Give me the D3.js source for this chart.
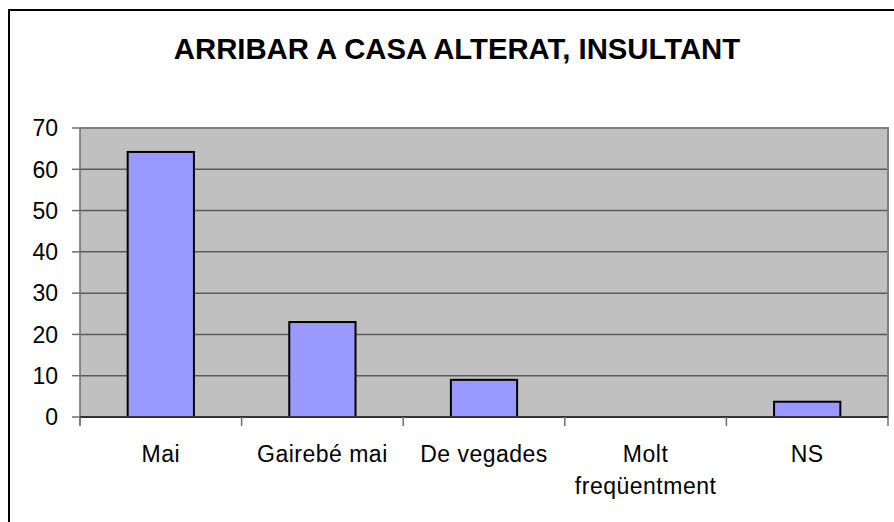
<!DOCTYPE html>
<html>
<head>
<meta charset="utf-8">
<script src="https://cdn.jsdelivr.net/npm/d3@7"></script>
<style>
  body { margin: 0; background: #fff; }
  text { font-family: "Liberation Sans", Arial, sans-serif; fill: #000; }
</style>
</head>
<body>
<svg id="chart" width="894" height="522"></svg>
<script>
var title = "ARRIBAR A CASA ALTERAT, INSULTANT";
var categories = ["Mai", "Gairebé mai", "De vegades", "Molt freqüentment", "NS"];
var values = [64.2, 23, 9, 0, 3.7];
var yTicks = [0, 10, 20, 30, 40, 50, 60, 70];

var margin = { top: 128, left: 80 },
	width = 808,
	height = 289;

var svg = d3.select("#chart");

// outer frame, right and bottom edges run off the picture
svg.append("rect")
	.attr("x", 9).attr("y", 10)
	.attr("width", 1000).attr("height", 1000)
	.attr("fill", "#fff")
	.attr("stroke", "#000")
	.attr("stroke-width", 2);

svg.append("text")
	.attr("x", 457)
	.attr("y", 59)
	.attr("text-anchor", "middle")
	.style("font-size", "29.3px")
	.style("font-weight", "bold")
	.text(title);

var g = svg.append("g")
	.attr("transform", "translate(" + margin.left + "," + margin.top + ")");

var x = d3.scaleBand().domain(categories).range([0, width]);
var y = d3.scaleLinear().domain([0, 70]).range([height, 0]);
var barW = x.bandwidth() * 0.41;

// plot background
g.append("rect")
	.attr("width", width).attr("height", height)
	.attr("fill", "#c0c0c0");

// gridlines
g.selectAll(".grid")
	.data(yTicks.filter(function (d) { return d > 0 && d < 70; }))
	.enter().append("line")
	.attr("x1", 0).attr("x2", width)
	.attr("y1", function (d) { return y(d); })
	.attr("y2", function (d) { return y(d); })
	.attr("stroke", "#5a5a5a")
	.attr("stroke-width", 1.5);

// top and right border of plot
g.append("path")
	.attr("d", "M0," + y(70) + "H" + width + "V" + height)
	.attr("fill", "none")
	.attr("stroke", "#808080")
	.attr("stroke-width", 2);

// bars
g.selectAll(".bar")
	.data(values)
	.enter().append("rect")
	.attr("class", "bar")
	.attr("x", function (d, i) { return x(categories[i]) + (x.bandwidth() - barW) / 2; })
	.attr("width", barW)
	.attr("y", function (d) { return y(d); })
	.attr("height", function (d) { return height - y(d); })
	.attr("fill", "#9999ff")
	.attr("stroke", "#000")
	.attr("stroke-width", 2)
	.style("display", function (d) { return d > 0 ? null : "none"; });

// y axis
g.append("line")
	.attr("x1", 0).attr("x2", 0)
	.attr("y1", 0).attr("y2", height + 8)
	.attr("stroke", "#6e6e6e").attr("stroke-width", 1.5);

g.selectAll(".ytick")
	.data(yTicks)
	.enter().append("line")
	.attr("x1", -8).attr("x2", 0)
	.attr("y1", function (d) { return y(d); })
	.attr("y2", function (d) { return y(d); })
	.attr("stroke", "#6e6e6e").attr("stroke-width", 1.5);

g.selectAll(".ylabel")
	.data(yTicks)
	.enter().append("text")
	.attr("x", -22)
	.attr("y", function (d) { return y(d); })
	.attr("dy", "0.36em")
	.attr("text-anchor", "end")
	.style("font-size", "23px")
	.text(function (d) { return d; });

// x axis
g.append("line")
	.attr("x1", 0).attr("x2", width)
	.attr("y1", height).attr("y2", height)
	.attr("stroke", "#333").attr("stroke-width", 2);

g.selectAll(".xtick")
	.data(categories.concat([null]))
	.enter().append("line")
	.attr("x1", function (d, i) { return i * x.step(); })
	.attr("x2", function (d, i) { return i * x.step(); })
	.attr("y1", height).attr("y2", height + 9)
	.attr("stroke", "#6e6e6e").attr("stroke-width", 1.5);

var labels = g.selectAll(".xlabel")
	.data(categories)
	.enter().append("text")
	.attr("text-anchor", "middle")
	.attr("y", height + 45)
	.style("font-size", "23px")
	.style("letter-spacing", "0.5px")
	.text(function (d) { return d; })
	.each(function (d) { wrap(d3.select(this), x(d) + x.bandwidth() / 2, x.bandwidth() - 10); });

function wrap(text, cx, maxW) {
	if (text.node().getComputedTextLength() <= maxW) {
		text.attr("x", cx);
		return;
	}
	var words = text.text().split(" ");
	text.text(null);
	words.forEach(function (w, i) {
		text.append("tspan")
			.attr("x", cx)
			.attr("dy", i === 0 ? 0 : 32)
			.text(w);
	});
}
</script>
</body>
</html>
